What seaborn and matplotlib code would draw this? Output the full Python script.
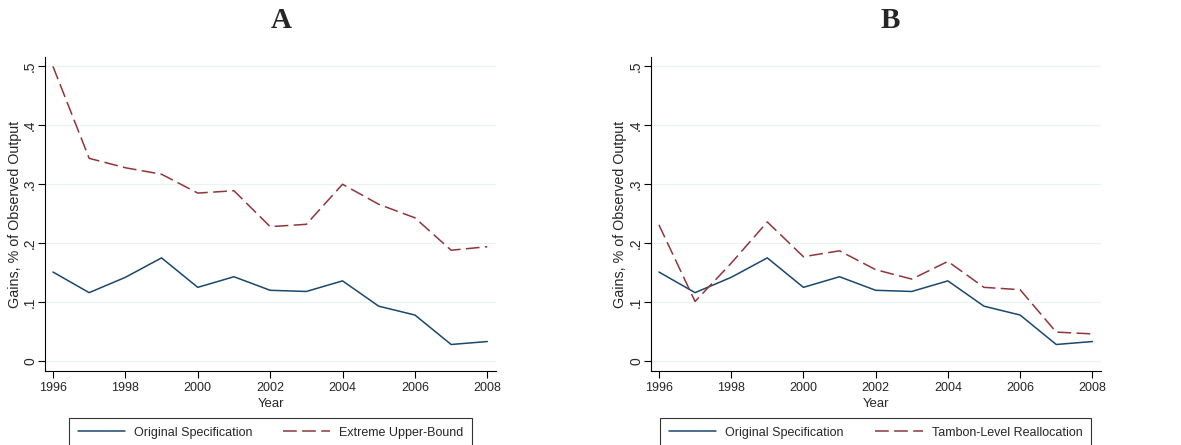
import numpy as np
import pandas as pd
import matplotlib
matplotlib.use("Agg")
import matplotlib.pyplot as plt
import seaborn as sns
from matplotlib.lines import Line2D

years = list(range(1996, 2009))
original = [0.151, 0.116, 0.142, 0.175, 0.125, 0.143, 0.120, 0.118, 0.136, 0.093, 0.078, 0.028, 0.033]
extreme = [0.500, 0.344, 0.328, 0.317, 0.285, 0.289, 0.228, 0.232, 0.300, 0.266, 0.243, 0.188, 0.194]
tambon = [0.231, 0.101, 0.166, 0.236, 0.177, 0.187, 0.155, 0.139, 0.169, 0.125, 0.121, 0.049, 0.046]
yticks = [0, 0.1, 0.2, 0.3, 0.4, 0.5]
ytick_labels = ["0", ".1", ".2", ".3", ".4", ".5"]
xticks = [1996, 1998, 2000, 2002, 2004, 2006, 2008]
panel_titles = ["A", "B"]
alt_labels = ["Extreme Upper-Bound", "Tambon-Level Reallocation"]
alt_series = [extreme, tambon]

sns.set_style("white")
plt.rcParams['font.family'] = ['Liberation Sans', 'DejaVu Sans']

W, H = 1181, 445
fig = plt.figure(figsize=(W / 100, H / 100), dpi=100)

navy = "#1a476f"
maroon = "#90353b"
grid_c = "#eaf2f3"

panels = [(45, 496), (651, 1101)]
ylabel_px = [15, 620]
top_px, bot_px = 57, 371
title_x = [281, 890]
legend_box = [(69, 472), (660, 1091)]

for i, (l, r) in enumerate(panels):
    ax = fig.add_axes([l / W, 1 - bot_px / H, (r - l) / W, (bot_px - top_px) / H])
    df = pd.DataFrame({"Year": years, "orig": original, "alt": alt_series[i]})
    sns.lineplot(data=df, x="Year", y="orig", ax=ax, color=navy, lw=1.1)
    sns.lineplot(data=df, x="Year", y="alt", ax=ax, color=maroon, lw=1.1)
    ax.lines[-1].set_dashes((9, 3.5))
    ax.set_xlim(1995.78, 2008.24)
    ax.set_ylim(-0.017, 0.516)
    ax.set_yticks(yticks)
    ax.set_yticklabels(ytick_labels, rotation=90, va="center")
    ax.set_xticks(xticks)
    ax.set_xticklabels([str(x) for x in xticks])
    ax.tick_params(axis="both", direction="out", length=5, width=0.8,
                   color="black", bottom=True, left=True)
    ax.tick_params(axis="x", labelsize=9, pad=3)
    ax.tick_params(axis="y", labelsize=10, pad=0.6)
    ax.yaxis.grid(True, color=grid_c, lw=0.9)
    ax.xaxis.grid(False)
    for s in ["top", "right"]:
        ax.spines[s].set_visible(False)
    for s in ["left", "bottom"]:
        ax.spines[s].set_color("black")
        ax.spines[s].set_linewidth(0.8)
    ax.set_xlabel("Year", fontsize=9.5, labelpad=2.5)
    ax.set_ylabel("Gains, % of Observed Output", fontsize=10.3, va="center")
    ax.yaxis.set_label_coords((ylabel_px[i] - l) / (r - l), 0.5)
    fig.text(title_x[i] / W, 1 - 20 / H, panel_titles[i], ha="center", va="center",
             fontsize=21, fontweight="bold", family=["Liberation Serif", "DejaVu Serif"])
    handles = [Line2D([], [], color=navy, lw=1.1),
               Line2D([], [], color=maroon, lw=1.1, dashes=(9, 3.5))]
    bl, br = legend_box[i]
    leg = fig.legend(handles, ["Original Specification", alt_labels[i]],
                     loc="upper left", bbox_to_anchor=(bl / W, 1 - 418 / H, (br - bl) / W, 0.0),
                     mode="expand", ncol=2, fontsize=9, frameon=True, fancybox=False,
                     edgecolor="black", handlelength=3.8, handletextpad=0.7,
                     borderaxespad=0, borderpad=0.7, columnspacing=1.8)
    leg.get_frame().set_linewidth(0.8)

fig.savefig("out.png", dpi=100)
